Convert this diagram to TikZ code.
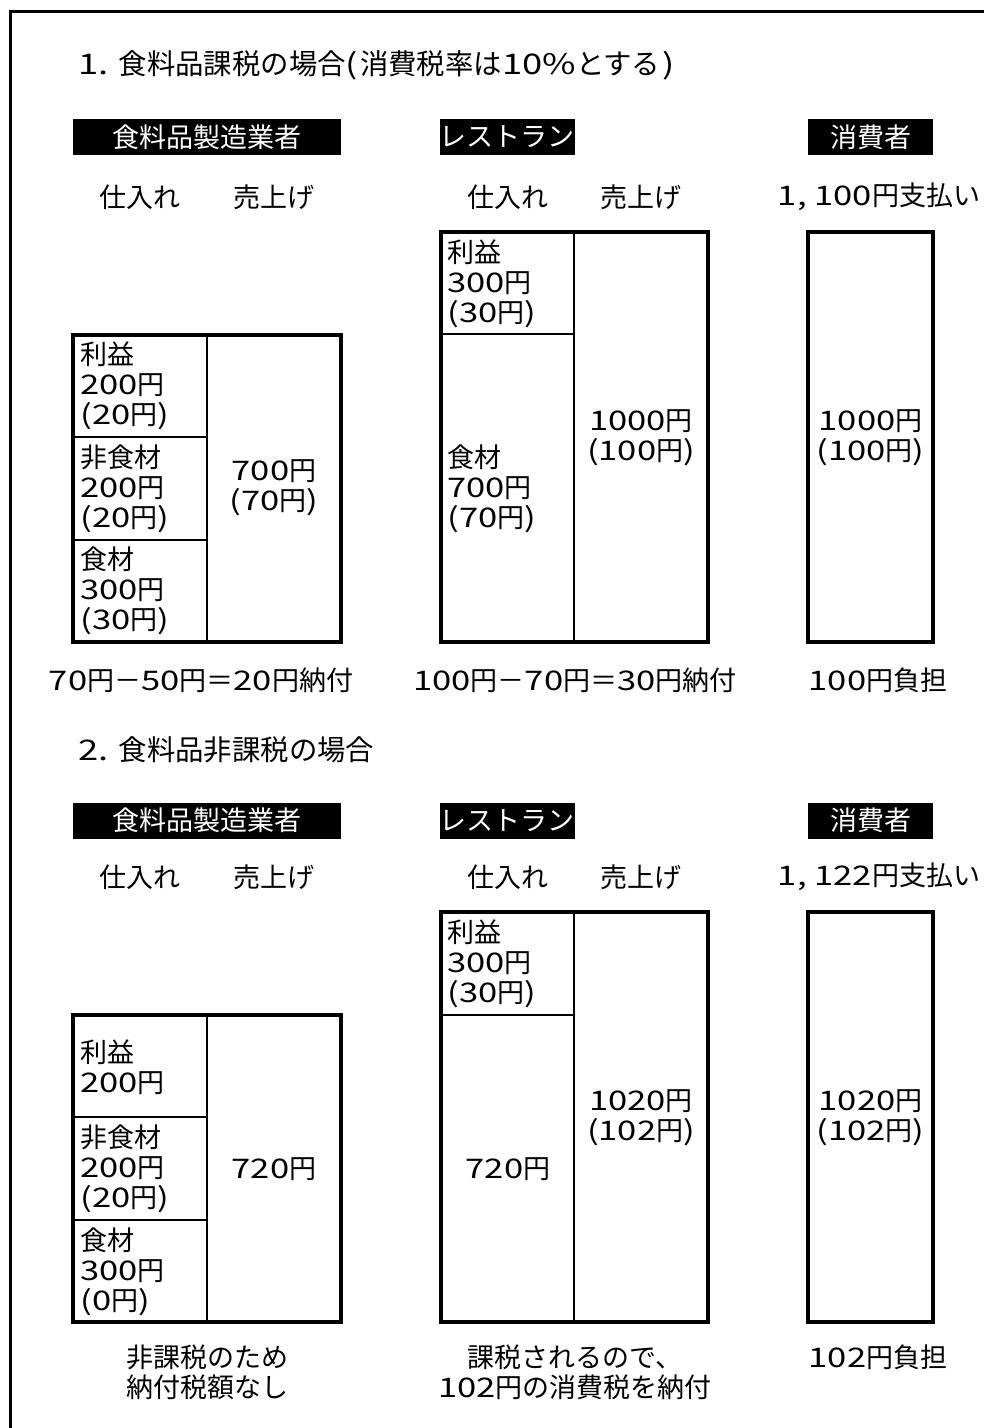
\documentclass[tikz,border=0pt]{standalone}
\usepackage{fontspec}
\setmainfont{Noto Sans CJK JP}
\newfontfamily\dg[FakeStretch=1.28]{Noto Sans CJK JP}
\newcommand\dgt[1]{{\dg #1}}
\newcommand\fs{\fontsize{13.5}{15}\selectfont}
\newcommand\ft{\fontsize{14.2}{16}\selectfont}
\begin{document}
\begin{tikzpicture}[x=0.5pt,y=-0.5pt,
  hdr/.style={fill=black,text=white,font=\fs,inner sep=0,minimum height=18pt},
  lbl/.style={font=\fs,inner sep=0},
  ttl/.style={font=\ft,inner sep=0,anchor=west},
  cl/.style={font=\fs,align=left,anchor=west,inner sep=0},
  cc/.style={font=\fs,align=center,inner sep=0},
  box/.style={line width=1.8pt},
  dv/.style={line width=1.4pt},
  frame/.style={line width=1.5pt}]
\useasboundingbox (0,0) rectangle (984,1428);
\draw[frame] (10,1428) -- (10,12) -- (984,12);

% ===== Section 1 =====
\node[ttl] (t1) at (78,65) {\dgt{1.}\hspace{5pt}食料品課税の場合\dgt{(}\hspace{1pt}消費税率は\dgt{10\%}とする\hspace{1pt}\dgt{)}};
\node[hdr,minimum width=134pt] (h1m) at (207,137) {食料品製造業者};
\node[hdr,minimum width=66pt] (h1r) at (507,137) {レストラン};
\node[hdr,minimum width=62.5pt] (h1c) at (870.5,137) {消費者};
\node[lbl] (s1m1) at (140,197) {仕入れ};
\node[lbl] (s1m2) at (274,197) {売上げ};
\node[lbl] (s1r1) at (508,197) {仕入れ};
\node[lbl] (s1r2) at (641,197) {売上げ};
\node[lbl] (s1c) at (879,197) {\dgt{1, 100}円支払い};

% manufacturer box
\draw[dv] (207,335) -- (207,642);
\draw[dv] (73,437) -- (207,437);
\draw[dv] (73,540) -- (207,540);
\draw[box] (73,335) rectangle (341,642);
\node[cl] (m1a) at (80,386) {利益\\\dgt{200}円\\\dgt{(20}円\dgt{)}};
\node[cl] (m1b) at (80,489) {非食材\\\dgt{200}円\\\dgt{(20}円\dgt{)}};
\node[cl] (m1c) at (80,591) {食材\\\dgt{300}円\\\dgt{(30}円\dgt{)}};
\node[cc] (m1d) at (274,488) {\dgt{700}円\\\dgt{(70}円\dgt{)}};

% restaurant box
\draw[dv] (574,232) -- (574,642);
\draw[dv] (441,334) -- (574,334);
\draw[box] (441,232) rectangle (708,642);
\node[cl] (r1a) at (447,284) {利益\\\dgt{300}円\\\dgt{(30}円\dgt{)}};
\node[cl] (r1b) at (447,489) {食材\\\dgt{700}円\\\dgt{(70}円\dgt{)}};
\node[cc] (r1c) at (641,438) {\dgt{1000}円\\\dgt{(100}円\dgt{)}};

% consumer box
\draw[box] (808,232) rectangle (933,642);
\node[cc] (c1) at (870.5,438) {\dgt{1000}円\\\dgt{(100}円\dgt{)}};

\node[lbl] (b1m) at (201,680) {\dgt{70}円－\dgt{50}円＝\dgt{20}円納付};
\node[lbl] (b1r) at (575,680) {\dgt{100}円－\dgt{70}円＝\dgt{30}円納付};
\node[lbl] (b1c) at (878,680) {\dgt{100}円負担};

% ===== Section 2 =====
\node[ttl] (t2) at (78,750) {\dgt{2.}\hspace{5pt}食料品非課税の場合};
\node[hdr,minimum width=134pt] (h2m) at (207,820.5) {食料品製造業者};
\node[hdr,minimum width=66pt] (h2r) at (507,820.5) {レストラン};
\node[hdr,minimum width=62.5pt] (h2c) at (870.5,820.5) {消費者};
\node[lbl] (s2m1) at (140,877) {仕入れ};
\node[lbl] (s2m2) at (274,877) {売上げ};
\node[lbl] (s2r1) at (508,877) {仕入れ};
\node[lbl] (s2r2) at (641,877) {売上げ};
\node[lbl] (s2c) at (879,877) {\dgt{1, 122}円支払い};

% manufacturer box
\draw[dv] (207,1015) -- (207,1322);
\draw[dv] (73,1117) -- (207,1117);
\draw[dv] (73,1220) -- (207,1220);
\draw[box] (73,1015) rectangle (341,1322);
\node[cl] (m2a) at (80,1067) {利益\\\dgt{200}円};
\node[cl] (m2b) at (80,1169) {非食材\\\dgt{200}円\\\dgt{(20}円\dgt{)}};
\node[cl] (m2c) at (80,1272) {食材\\\dgt{300}円\\\dgt{(0}円\dgt{)}};
\node[cc] (m2d) at (274,1169) {\dgt{720}円};

% restaurant box
\draw[dv] (574,912) -- (574,1322);
\draw[dv] (441,1015) -- (574,1015);
\draw[box] (441,912) rectangle (708,1322);
\node[cl] (r2a) at (447,964) {利益\\\dgt{300}円\\\dgt{(30}円\dgt{)}};
\node[cc] (r2b) at (508,1169) {\dgt{720}円};
\node[cc] (r2c) at (641,1118) {\dgt{1020}円\\\dgt{(102}円\dgt{)}};

% consumer box
\draw[box] (808,912) rectangle (933,1322);
\node[cc] (c2) at (870.5,1118) {\dgt{1020}円\\\dgt{(102}円\dgt{)}};

\node[cc] (b2m) at (207,1372) {非課税のため\\納付税額なし};
\node[cc] (b2r) at (575,1372) {課税されるので、\\\dgt{102}円の消費税を納付};
\node[lbl] (b2c) at (878,1357) {\dgt{102}円負担};
\end{tikzpicture}
\end{document}
